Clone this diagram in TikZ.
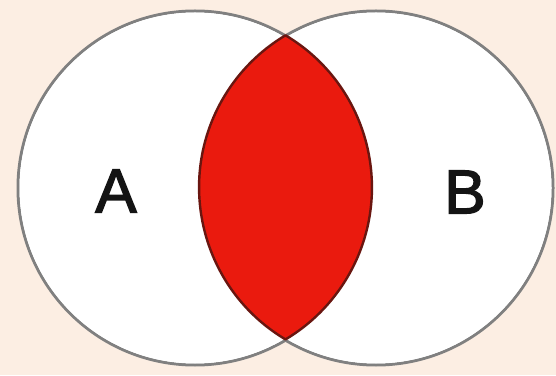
\documentclass[tikz,border=0pt]{standalone}
\usepackage{fontspec}
\setmainfont{Liberation Sans}
\newfontfamily\labelfont[FakeBold=2.2]{Liberation Sans}
\definecolor{bgpeach}{RGB}{252,238,227}
\definecolor{lensred}{RGB}{234,26,14}
\definecolor{lensedge}{RGB}{105,22,16}
\definecolor{ringgray}{RGB}{128,128,128}
\begin{document}
\begin{tikzpicture}[x=1pt,y=1pt,
  ring/.style={draw=ringgray,line width=3pt,fill=white},
  lens/.style={fill=lensred,draw=lensedge,line width=2.4pt,line join=round},
  setlabel/.style={font=\labelfont\fontsize{62}{62}\selectfont,text=black!92,inner sep=0pt}]
\useasboundingbox (0,0) rectangle (556,375);
\fill[bgpeach] (0,0) rectangle (556,375);
\coordinate (ca) at (195,187);
\coordinate (cb) at (376,187);
\path[ring] (ca) circle[radius=177];
\path[ring] (cb) circle[radius=177];
\fill[white] (ca) circle[radius=175.5];
\fill[white] (cb) circle[radius=175.5];
\coordinate (top) at (285.5,339.7);
\path[lens] (top) arc[start angle=59.22,end angle=-59.22,radius=177]
  arc[start angle=239.22,end angle=120.78,radius=177] -- cycle;
\node[setlabel] (la) at (116,184) {A};
\node[setlabel] (lb) at (465,183) {B};
\end{tikzpicture}
\end{document}
